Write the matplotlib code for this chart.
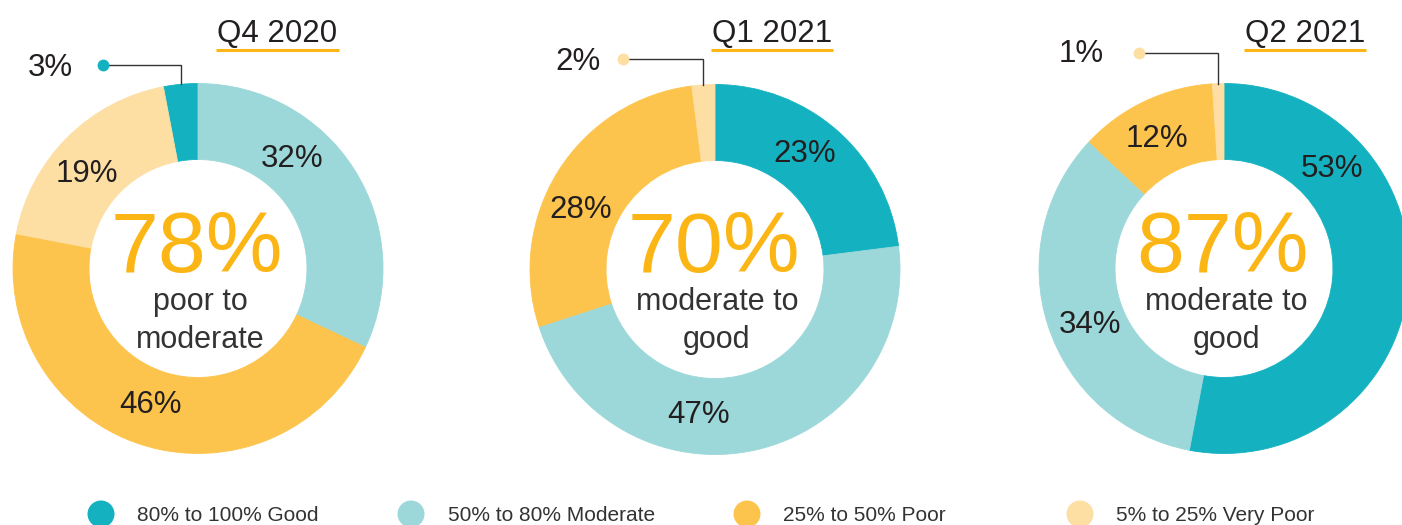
import numpy as np
import matplotlib
matplotlib.use("Agg")
import matplotlib.pyplot as plt
from matplotlib.patches import Circle

plt.rcParams['font.family'] = ['Liberation Sans', 'DejaVu Sans']

# data
categories = ['80% to 100% Good', '50% to 80% Moderate', '25% to 50% Poor', '5% to 25% Very Poor']
quarters = ['Q4 2020', 'Q1 2021', 'Q2 2021']
good = [3, 23, 53]
moderate = [32, 47, 34]
poor = [46, 28, 12]
very_poor = [19, 2, 1]
headline = ['78%', '70%', '87%']
headline_text = ['poor to\nmoderate', 'moderate to\ngood', 'moderate to\ngood']

colors = ['#14B2C1', '#9CD8D9', '#FDC44D', '#FDDEA3']
accent = '#FBB616'
dark = '#231F20'

W, H = 1402, 525

def Y(y):
    # pixel row -> data y
    return H - y

# layout (pixels from top-left)
centers = [(198, 268.5), (715, 269.5), (1224, 268.5)]
r_out, r_in = 185, 109
good_before_top = [True, False, False]
title_pos = [(277.5, 42), (772, 42), (1305, 42)]
# label positions: (x centre, baseline) for Good, Moderate, Poor, Very Poor
label_pos = [
    [None, (292, 167), (151, 413), (87, 182)],
    [(805, 162), (699, 423), (581, 218), None],
    [(1332, 177), (1090, 333), (1157, 147), None],
]
# small slice pulled out with a leader: (index, label x, label baseline, dot x, dot y)
callout = [(0, 50, 76, 103, 65), (3, 578, 70, 623, 59), (3, 1081, 62, 1139, 53)]
legend_dot_x = [101, 411, 747, 1080]
legend_text_x = [137, 448, 783, 1116]

fig = plt.figure(figsize=(W / 100, H / 100), dpi=100)
ax = fig.add_axes([0, 0, 1, 1])

titles = []
for i in range(3):
    vals = [good[i], moderate[i], poor[i], very_poor[i]]
    cx, cy = centers[i]
    start = 90 + 3.6 * good[i] if good_before_top[i] else 90
    wedges, _ = ax.pie(vals, colors=colors, startangle=start, counterclock=False,
                       center=(cx, Y(cy)), radius=r_out, frame=True,
                       wedgeprops=dict(width=r_out - r_in, linewidth=0.6))
    for w in wedges:
        w.set_edgecolor(w.get_facecolor())

    for j, v in enumerate(vals):
        if label_pos[i][j] is None:
            continue
        lx, ly = label_pos[i][j]
        ax.text(lx, Y(ly), '%d%%' % v, ha='center', va='baseline', fontsize=22.5, color=dark)

    # leader for the tiny slice
    j, tx, ty, dx, dy = callout[i]
    w = wedges[j]
    mid = np.deg2rad((w.theta1 + w.theta2) / 2)
    ex = cx + r_out * np.cos(mid)
    ax.plot([dx, ex, ex], [Y(dy), Y(dy), Y(cy) + r_out * np.sin(mid)],
            color='#333333', lw=1.0, solid_joinstyle='miter')
    ax.plot(dx, Y(dy), 'o', ms=8.5, color=colors[j], mec='none')
    ax.text(tx, Y(ty), '%d%%' % vals[j], ha='center', va='baseline', fontsize=22.5, color=dark)

    # centre text
    ax.text(cx - 1, Y(272), headline[i], ha='center', va='baseline', fontsize=62, color=accent)
    for k, line in enumerate(headline_text[i].split('\n')):
        ax.text(cx + 2, Y(310 + 38 * k), line, ha='center', va='baseline', fontsize=22,
                color='#333333')

    tx, ty = title_pos[i]
    titles.append(ax.text(tx, Y(ty), quarters[i], ha='center', va='baseline',
                          fontsize=22.5, color=dark))

# legend
for k, lab in enumerate(categories):
    ax.add_patch(Circle((legend_dot_x[k], Y(514)), 13.5, color=colors[k], lw=0))
    ax.text(legend_text_x[k], Y(521), lab, ha='left', va='baseline', fontsize=15, color='#333333')

ax.set_xlim(0, W)
ax.set_ylim(0, H)
ax.set_aspect('equal')
ax.set_autoscale_on(False)
ax.axis('off')

# underline each quarter title
fig.canvas.draw()
inv = ax.transData.inverted()
for t in titles:
    bb = t.get_window_extent()
    x0, _ = inv.transform((bb.x0, bb.y0))
    x1, _ = inv.transform((bb.x1, bb.y0))
    ax.plot([x0 - 1, x1 + 1], [Y(50), Y(50)], color=accent, lw=2.2, solid_capstyle='butt')

fig.savefig('out.png', dpi=100)
